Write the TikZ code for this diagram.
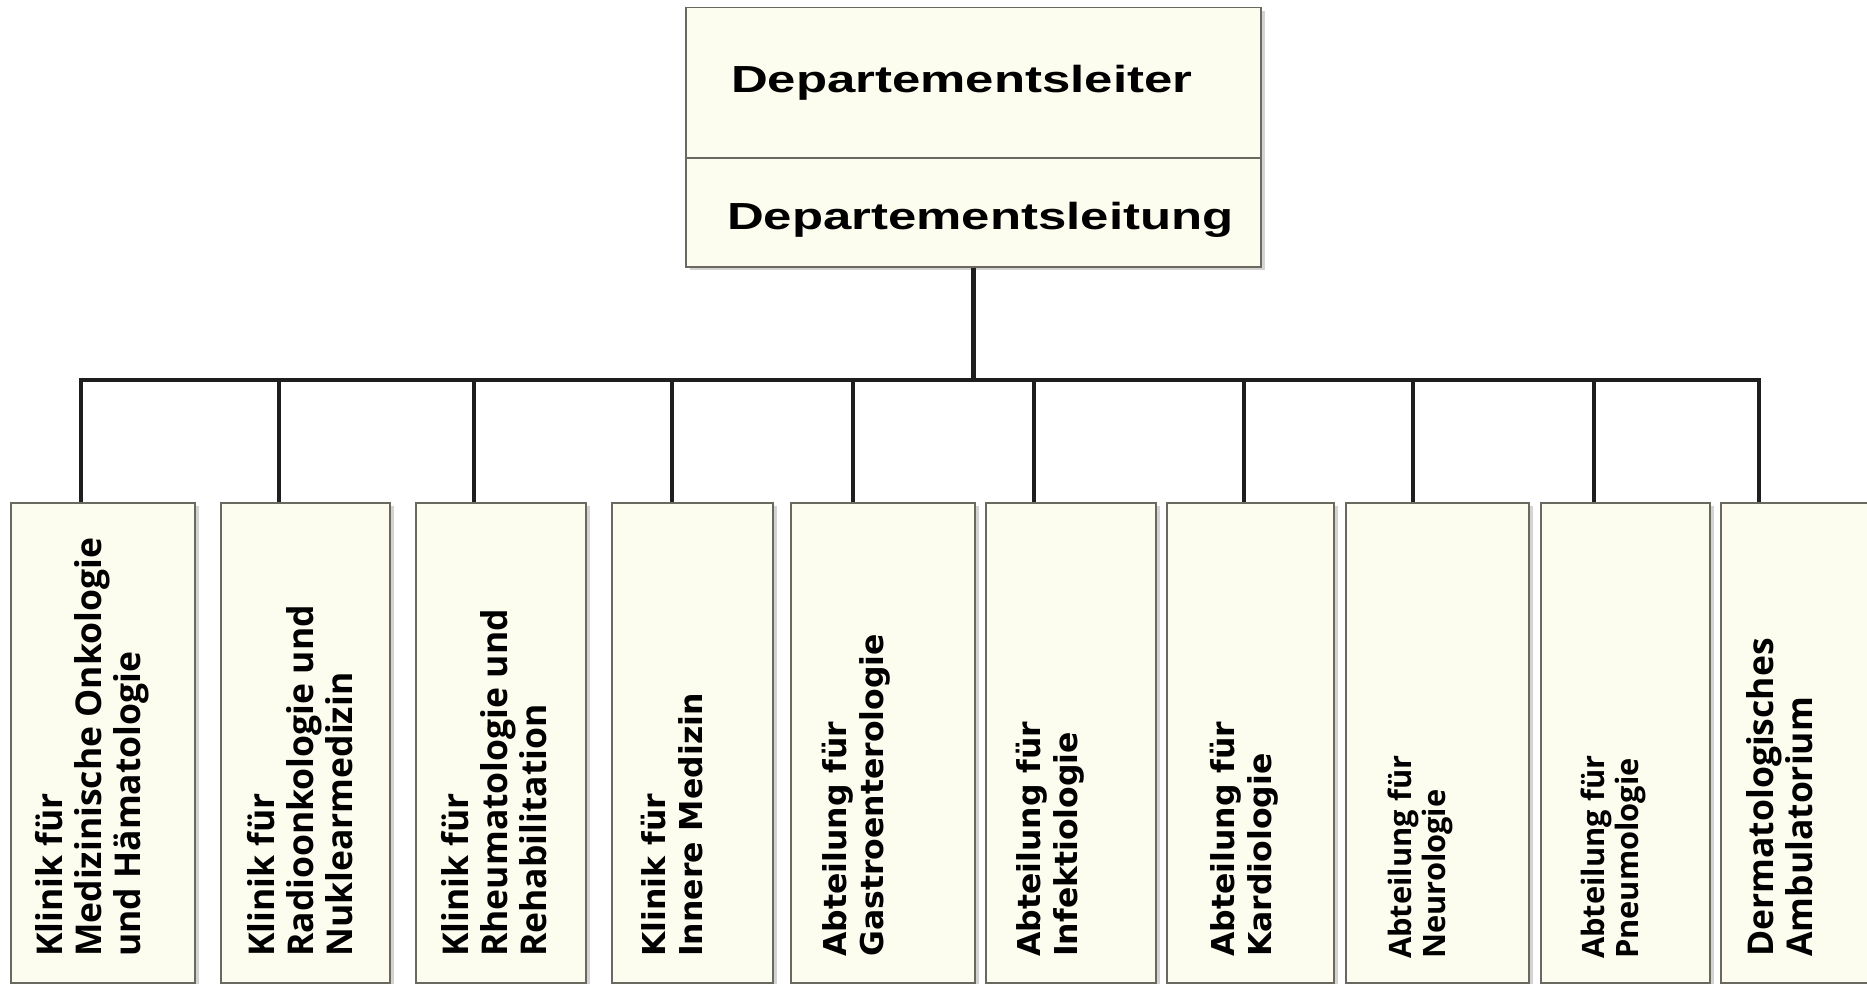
\documentclass[tikz,border=0pt]{standalone}
\usepackage{fontspec}
\setmainfont{DejaVu Sans}
\newfontfamily\kopffont[FakeStretch=1.35]{Liberation Sans}
\newfontfamily\klinikfont{Open Sans}
\usetikzlibrary{shadows}
\definecolor{kasten}{RGB}{252,252,239}
\definecolor{rand}{RGB}{105,105,95}
\definecolor{linie}{RGB}{30,30,30}

\begin{document}
\begin{tikzpicture}[x=1pt, y=-1pt,
        box/.style={draw=rand, line width=1.5pt, fill=kasten, anchor=north west, inner sep=0pt,
            drop shadow={shadow xshift=4pt, shadow yshift=-3pt, opacity=0.35}},
        abt/.style={box, minimum height=480pt},
        strich/.style={draw=linie, line width=4.5pt},
        kopf/.style={anchor=base west, inner sep=0pt, font=\kopffont\bfseries\fontsize{37.7}{40}\selectfont},
        klinik/.style={rotate=90, anchor=base west, align=left, inner sep=0pt, font=\klinikfont\bfseries\fontsize{35.5}{39}\selectfont},
        abteilung/.style={klinik, font=\bfseries\fontsize{31.5}{37}\selectfont},
        klein/.style={klinik, font=\klinikfont\bfseries\fontsize{30.8}{34}\selectfont}]
    \useasboundingbox (0,0) rectangle (1867,984);

    % zeichne Departementsleitung
    \node[box, minimum width=575pt, minimum height=259pt] (chef) at (685,7) {};
    \draw[rand, line width=2pt] (chef.west |- 0,158) -- (chef.east |- 0,158);
    \node[kopf] (leiter) at (731,93) {Departementsleiter};
    \node[kopf] (leitung) at (727,230) {Departementsleitung};

    % zeichne Kliniken und Abteilungen
    \node[abt, minimum width=184pt] (k1) at (10,502) {};
    \node[abt, minimum width=169pt] (k2) at (220,502) {};
    \node[abt, minimum width=170pt] (k3) at (415,502) {};
    \node[abt, minimum width=161pt] (k4) at (611,502) {};
    \node[abt, minimum width=184pt] (k5) at (790,502) {};
    \node[abt, minimum width=170pt] (k6) at (985,502) {};
    \node[abt, minimum width=167pt] (k7) at (1166,502) {};
    \node[abt, minimum width=183pt] (k8) at (1345,502) {};
    \node[abt, minimum width=169pt] (k9) at (1540,502) {};
    \node[abt, minimum width=160pt] (k10) at (1720,502) {};

    % zeichne Beschriftungen (Grundlinie der letzten Zeile)
    \node[klinik] (t1) at (140,957) {Klinik für\\Medizinische Onkologie\\und Hämatologie};
    \node[klinik] (t2) at (352,957) {Klinik für\\Radioonkologie und\\Nuklearmedizin};
    \node[klinik] (t3) at (546,957) {Klinik für\\Rheumatologie und\\Rehabilitation};
    \node[abteilung] (t4) at (702,957) {Klinik für\\Innere Medizin};
    \node[abteilung] (t5) at (883,957) {Abteilung für\\Gastroenterologie};
    \node[abteilung] (t6) at (1077,957) {Abteilung für\\Infektiologie};
    \node[abteilung] (t7) at (1271,957) {Abteilung für\\Kardiologie};
    \node[klein] (t8) at (1445,959) {Abteilung für\\Neurologie};
    \node[klein] (t9) at (1638,959) {Abteilung für\\Pneumologie};
    \node[klinik] (t10) at (1812,957) {Dermatologisches\\Ambulatorium};

    % zeichne Verbindungen
    \coordinate (bus) at (0,380);
    \draw[strich] (chef.south) -- (chef.south |- bus);
    \draw[strich] (81,0 |- k1.north) -- (81,0 |- bus) -- (1759,0 |- bus) -- (1759,0 |- k10.north);
    \foreach \x/\k in {279/k2, 474/k3, 672/k4, 853/k5, 1034/k6, 1244/k7, 1413/k8, 1594/k9}
        \draw[strich] (\x,0 |- bus) -- (\x,0 |- \k.north);
\end{tikzpicture}
\end{document}
